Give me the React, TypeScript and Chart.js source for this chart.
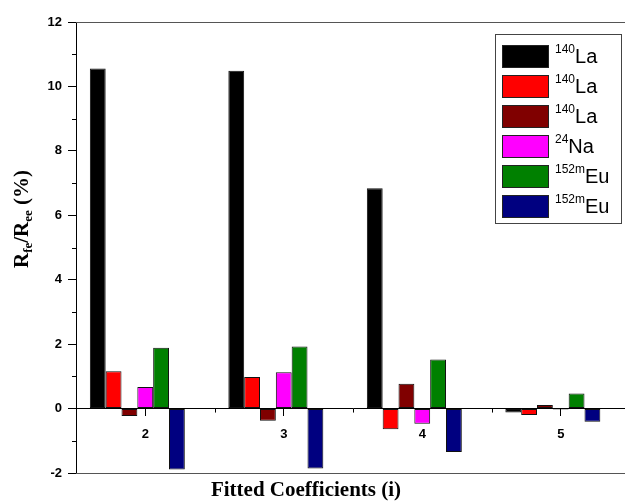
import React, { useEffect, useRef } from 'react';
import { Chart, registerables } from 'chart.js';
Chart.register(...registerables);

const categories = ['2', '3', '4', '5'];
const la140First = [10.56, 10.49, 6.84, -0.12];
const la140Second = [1.16, 0.98, -0.64, -0.2];
const la140Third = [-0.23, -0.38, 0.77, 0.11];
const na24 = [0.67, 1.13, -0.47, -0.03];
const eu152mFirst = [1.89, 1.93, 1.52, 0.47];
const eu152mSecond = [-1.89, -1.86, -1.35, -0.41];
const seriesValues = [la140First, la140Second, la140Third, na24, eu152mFirst, eu152mSecond];
const massNumbers = ['140', '140', '140', '24', '152m', '152m'];
const elements = ['La', 'La', 'La', 'Na', 'Eu', 'Eu'];
const colors = ['#000000', '#ff0000', '#800000', '#ff00ff', '#008000', '#000080'];
const yMin = -2;
const yMax = 12;
const yStep = 2;
const xTitle = 'Fitted Coefficients (i)';
const yTitleParts: [string, boolean][] = [['R', false], ['fe', true], ['/R', false], ['ee', true], [' (%)', false]];

const SANS = '"Liberation Sans", Arial, sans-serif';
const SERIF = '"Liberation Serif", "Times New Roman", serif';

const decorPlugin = {
  id: 'decor',
  afterDraw(chart: any) {
    const ctx = chart.ctx;
    const area = chart.chartArea;
    const xs = chart.scales.x;
    const ys = chart.scales.y;
    ctx.save();
    // frame top and bottom
    ctx.strokeStyle = '#555';
    ctx.lineWidth = 1;
    ctx.beginPath();
    ctx.moveTo(area.left, Math.round(area.top) + 0.5);
    ctx.lineTo(area.right, Math.round(area.top) + 0.5);
    ctx.moveTo(area.left, Math.round(area.bottom) + 0.5);
    ctx.lineTo(area.right, Math.round(area.bottom) + 0.5);
    ctx.stroke();
    // minor ticks
    ctx.strokeStyle = '#000';
    ctx.beginPath();
    for (let v = yMin + 1; v < yMax; v += yStep) {
      const py = Math.round(ys.getPixelForValue(v)) + 0.5;
      ctx.moveTo(area.left - 4, py);
      ctx.lineTo(area.left, py);
    }
    const zeroY = ys.getPixelForValue(0);
    for (let i = 0; i < categories.length - 1; i++) {
      const px = Math.round((xs.getPixelForValue(i) + xs.getPixelForValue(i + 1)) / 2) + 0.5;
      ctx.moveTo(px, zeroY);
      ctx.lineTo(px, zeroY + 4);
    }
    ctx.stroke();

    // x title
    ctx.fillStyle = '#000';
    ctx.font = `bold 21px ${SERIF}`;
    ctx.textAlign = 'center';
    ctx.textBaseline = 'alphabetic';
    ctx.fillText(xTitle, 306, 496);

    // y title
    ctx.save();
    ctx.translate(28, 268);
    ctx.rotate(-Math.PI / 2);
    ctx.textAlign = 'left';
    let cx = 0;
    for (const [txt, sub] of yTitleParts) {
      ctx.font = sub ? `bold 13px ${SERIF}` : `bold 21px ${SERIF}`;
      ctx.fillText(txt, cx, sub ? 4 : 0);
      cx += ctx.measureText(txt).width;
    }
    ctx.restore();

    // legend
    const bx = 495, by = 34, bw = 126, bh = 189;
    ctx.fillStyle = '#fff';
    ctx.fillRect(bx, by, bw, bh);
    ctx.strokeStyle = '#444';
    ctx.strokeRect(bx + 0.5, by + 0.5, bw, bh);
    for (let i = 0; i < massNumbers.length; i++) {
      const sy = 45 + 30 * i;
      ctx.fillStyle = colors[i];
      ctx.fillRect(502, sy, 46, 22);
      ctx.strokeStyle = '#222';
      ctx.strokeRect(502.5, sy + 0.5, 46, 22);
      ctx.fillStyle = '#000';
      ctx.textAlign = 'left';
      ctx.font = `12px ${SANS}`;
      ctx.fillText(massNumbers[i], 555, sy + 8);
      const w = ctx.measureText(massNumbers[i]).width;
      ctx.font = `20px ${SANS}`;
      ctx.fillText(elements[i], 555 + w, sy + 18);
    }
    ctx.restore();
  },
};

export default function App() {
  const ref = useRef<HTMLCanvasElement | null>(null);
  useEffect(() => {
    document.body.style.margin = '0';
    document.body.style.overflow = 'hidden';
    const canvas = ref.current;
    if (!canvas) return;
    const datasets: any[] = seriesValues.map((vals, i) => ({
      label: `${massNumbers[i]}${elements[i]}`,
      data: vals,
      backgroundColor: colors[i],
      borderColor: '#111',
      borderWidth: 1,
      borderSkipped: false,
      categoryPercentage: 0.8,
      barPercentage: 1,
    }));
    datasets.push({
      label: '',
      data: categories.map(() => null),
      backgroundColor: 'rgba(0,0,0,0)',
      borderWidth: 0,
      categoryPercentage: 0.8,
      barPercentage: 1,
    });
    const chart = new Chart(canvas, {
      type: 'bar',
      data: { labels: categories, datasets },
      options: {
        animation: false,
        responsive: false,
        devicePixelRatio: 1,
        layout: { padding: { top: 22, bottom: 28, left: 0, right: 0 } },
        plugins: { legend: { display: false }, tooltip: { enabled: false }, title: { display: false } },
        scales: {
          x: {
            type: 'category',
            position: { y: 0 } as any,
            offset: true,
            grid: { display: true, drawOnChartArea: false, drawTicks: true, tickLength: 7, color: '#000', offset: false },
            border: { display: true, color: '#000', width: 1 },
            ticks: { color: '#000', font: { family: SANS, size: 13, weight: 'bold' }, padding: 11, maxRotation: 0 },
          },
          y: {
            min: yMin,
            max: yMax,
            grid: { display: true, drawOnChartArea: false, drawTicks: true, tickLength: 8, color: '#000' },
            border: { display: true, color: '#000', width: 1 },
            ticks: { stepSize: yStep, color: '#000', font: { family: SANS, size: 13, weight: 'bold' }, padding: 6 },
            afterFit: (s: any) => { s.width = 76; },
          },
        },
      },
      plugins: [decorPlugin],
    });
    return () => chart.destroy();
  }, []);
  return (
    <div style={{ width: 625, height: 501, overflow: 'hidden', position: 'relative', background: '#fff' }}>
      <canvas ref={ref} width={630} height={501} style={{ display: 'block', width: 630, height: 501 }} />
    </div>
  );
}
